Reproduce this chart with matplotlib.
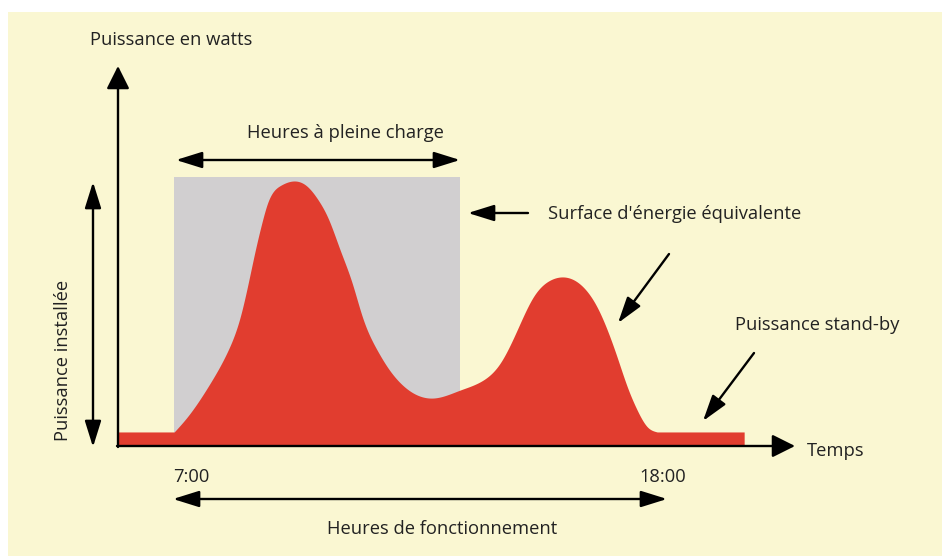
import matplotlib.pyplot as plt
import numpy as np
from matplotlib.patches import Rectangle, FancyArrowPatch

plt.rcParams['font.family'] = ['Open Sans', 'DejaVu Sans']

# load profile (hours, % of installed power)
hours = [7.00, 7.29, 7.81, 8.21, 8.48, 8.66, 8.82, 8.97, 9.09, 9.38, 9.67,
         9.96, 10.23, 10.45, 10.72, 10.99, 11.22, 11.55, 11.78, 12.07, 12.81,
         13.41, 13.93, 14.31, 14.69, 15.05, 15.43, 15.72, 16.17, 16.48, 16.71,
         16.93, 17.16, 17.38, 17.61, 17.83]
power = [5.3, 10.9, 23.8, 36.2, 48.7, 61.5, 74.0, 84.5, 91.5, 98.3, 100.0,
         98.3, 92.8, 86.0, 74.0, 61.5, 48.7, 36.2, 29.8, 23.8, 18.1,
         21.1, 24.9, 31.3, 43.8, 56.2, 62.6, 63.8, 60.0, 52.5, 43.8,
         33.6, 22.3, 13.6, 7.2, 5.3]
standby = 5.3
t_start, t_stop = 5.74, 19.78   # span of the recorded profile
t_on, t_off = 7.0, 18.0         # operating hours
t_full = 13.41                  # end of equivalent full-load rectangle
p_full = 101.5

BG = '#FAF7D2'
RED = '#E13D2F'
GREY = '#D1CFD0'


def smooth(x, y, n=800):
    # natural cubic spline through the read points, only to draw a smooth outline
    x = np.asarray(x, float)
    y = np.asarray(y, float)
    h = np.diff(x)
    m = len(x)
    A = np.zeros((m, m))
    r = np.zeros(m)
    A[0, 0] = A[-1, -1] = 1
    for i in range(1, m - 1):
        A[i, i - 1] = h[i - 1]
        A[i, i] = 2 * (h[i - 1] + h[i])
        A[i, i + 1] = h[i]
        r[i] = 6 * ((y[i + 1] - y[i]) / h[i] - (y[i] - y[i - 1]) / h[i - 1])
    M = np.linalg.solve(A, r)
    xs = np.linspace(x[0], x[-1], n)
    k = np.clip(np.searchsorted(x, xs) - 1, 0, m - 2)
    a, b = x[k], x[k + 1]
    hk = b - a
    ys = (M[k] * (b - xs) ** 3 / (6 * hk) + M[k + 1] * (xs - a) ** 3 / (6 * hk)
          + (y[k] / hk - M[k] * hk / 6) * (b - xs)
          + (y[k + 1] / hk - M[k + 1] * hk / 6) * (xs - a))
    return xs, ys


W, H = 942, 556
fig = plt.figure(figsize=(W / 100, H / 100), dpi=100)
fig.patch.set_facecolor('white')
fig.patches.append(Rectangle((8 / W, 0), 1, 1 - 12 / H, transform=fig.transFigure,
                             facecolor=BG, edgecolor='none', zorder=-5))


def P(x, y):
    # figure position from pixels measured top-left
    return (x / W, 1 - y / H)


ax = fig.add_axes([118 / W, (H - 446) / H, (795 - 118) / W, (446 - 66) / H])
ax.set_xlim(t_start, 20.92)
ax.set_ylim(0, 143.4)
ax.axis('off')

ax.add_patch(Rectangle((t_on, 0), t_full - t_on, p_full, facecolor=GREY,
                       edgecolor='none', zorder=1))

cx, cy = smooth(hours, power)
cx = np.r_[t_start, t_on, cx, t_stop]
cy = np.r_[standby, standby, np.maximum(cy, standby), standby]
ax.fill_between(cx, 0, cy, color=RED, lw=0, zorder=2)


def arrow(a, b, style='-|>', hl=14, hw=5.5, lw=1.7):
    ar = FancyArrowPatch(a, b, transform=fig.transFigure,
                         arrowstyle=f'{style},head_length={hl},head_width={hw}',
                         mutation_scale=1, lw=lw, color='black',
                         shrinkA=0, shrinkB=0, zorder=5, clip_on=False)
    fig.patches.append(ar)


# axes
arrow(P(118, 447), P(118, 66), hl=14, hw=7)
arrow(P(117, 446), P(795, 446), hl=14, hw=7)

# dimension arrows
arrow(P(176, 160), P(460, 160), style='<|-|>', hl=16, hw=5)
arrow(P(93, 182), P(93, 447), style='<|-|>', hl=16, hw=5)
arrow(P(173, 499), P(667, 499), style='<|-|>', hl=16, hw=5)
arrow(P(528, 213), P(468, 213), hl=16, hw=5)
arrow(P(669, 254), P(618, 323), hl=16, hw=5)
arrow(P(754, 353), P(703, 421), hl=16, hw=5)

fs = 13.2
tc = '#222222'
fig.text(*P(90, 40), 'Puissance en watts', fontsize=fs, color=tc, va='center')
fig.text(*P(345, 133), 'Heures à pleine charge', fontsize=fs, color=tc,
         ha='center', va='center')
fig.text(*P(548, 214), "Surface d'énergie équivalente", fontsize=fs, color=tc,
         va='center')
fig.text(*P(735, 325), 'Puissance stand-by', fontsize=fs, color=tc, va='center')
fig.text(*P(807, 451), 'Temps', fontsize=fs, color=tc, va='center')
fig.text(*P(191, 477), f'{int(t_on)}:00', fontsize=fs, color=tc,
         ha='center', va='center')
fig.text(*P(663, 477), f'{int(t_off)}:00', fontsize=fs, color=tc,
         ha='center', va='center')
fig.text(*P(442, 529), 'Heures de fonctionnement', fontsize=fs, color=tc,
         ha='center', va='center')
fig.text(*P(63, 360), 'Puissance installée', fontsize=fs, color=tc,
         ha='center', va='center', rotation=90)

fig.savefig('out.png', dpi=100, facecolor='white')
